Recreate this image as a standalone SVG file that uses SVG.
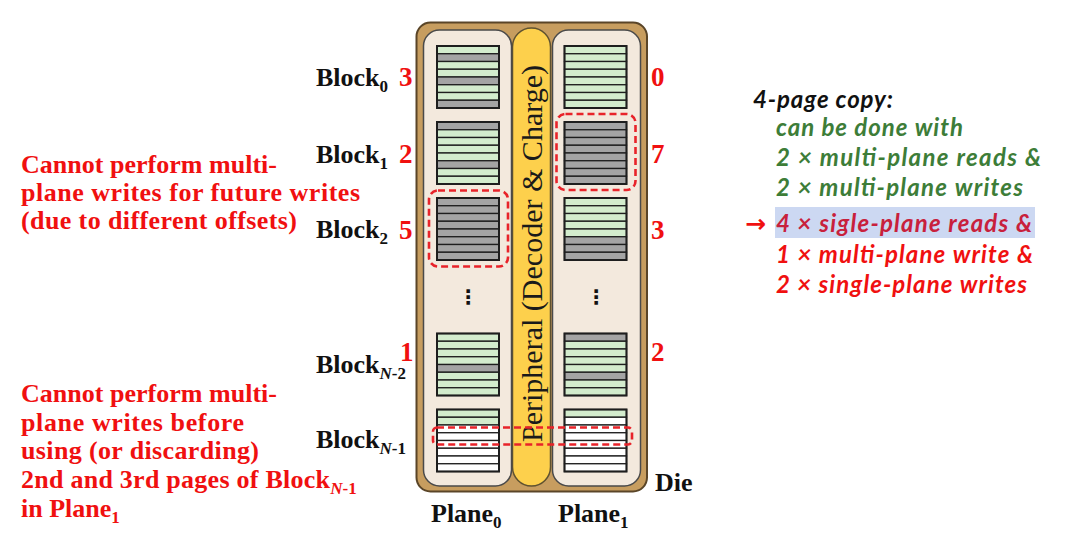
<svg xmlns="http://www.w3.org/2000/svg" width="1080" height="540" viewBox="0 0 1080 540">
<style>
.g{fill:#d3eccd;stroke:#1e1e1e;stroke-width:1.3}
.d{fill:#a4a4a4;stroke:#1e1e1e;stroke-width:1.3}
.w{fill:#ffffff;stroke:#1e1e1e;stroke-width:1.3}
.bo{fill:none;stroke:#1e1e1e;stroke-width:2}
.dash{fill:none;stroke:#e8232a;stroke-width:2.6;stroke-dasharray:7 4}
.lbl{font-family:"Liberation Serif",serif;font-weight:bold;font-size:26px;fill:#111}
.sub{font-size:17px}
.num{font-family:"Liberation Serif",serif;font-weight:bold;font-size:27px;fill:#f01010}
.red{font-family:"Liberation Serif",serif;font-weight:bold;font-size:26px;fill:#f01010}
.note{font-family:Lato,"Liberation Sans",sans-serif;font-weight:bold;font-style:italic;font-size:24px}
.dots{font-family:"DejaVu Sans",sans-serif;font-weight:bold;font-size:20px;fill:#111;text-anchor:middle}
</style>
<rect width="1080" height="540" fill="#ffffff"/>

<g id="die">
  <rect x="416.5" y="22.5" width="230.5" height="469" rx="14" fill="#c79d5f" stroke="#5a4528" stroke-width="2"/>
</g>
<g id="peripheral">
  <rect x="512.5" y="28" width="38" height="458" rx="19" fill="#fdd04c" stroke="#5f5230" stroke-width="1.5"/>
  <text transform="translate(542,442) rotate(-90)" font-family="'Liberation Serif',serif" font-size="30" fill="#1a1a1a" textLength="377" lengthAdjust="spacingAndGlyphs">Peripheral (Decoder &amp; Charge)</text>
</g>
<g id="plane0">
  <rect x="423.5" y="30" width="88" height="456" rx="16" fill="#f3e9dd" stroke="#4a4a4a" stroke-width="1.5"/>
</g>
<g id="plane1">
  <rect x="552.5" y="30" width="88" height="456" rx="16" fill="#f3e9dd" stroke="#4a4a4a" stroke-width="1.5"/>
</g>

<!-- Plane0 blocks -->
<g id="p0b0">
  <rect class="g" x="437" y="46" width="62" height="7.75"/><rect class="d" x="437" y="53.75" width="62" height="7.75"/><rect class="g" x="437" y="61.5" width="62" height="7.75"/><rect class="g" x="437" y="69.25" width="62" height="7.75"/><rect class="d" x="437" y="77" width="62" height="7.75"/><rect class="g" x="437" y="84.75" width="62" height="7.75"/><rect class="g" x="437" y="92.5" width="62" height="7.75"/><rect class="d" x="437" y="100.25" width="62" height="7.75"/>
  <rect class="bo" x="437" y="46" width="62" height="62"/>
</g>
<g id="p0b1">
  <rect class="d" x="437" y="122" width="62" height="7.75"/><rect class="g" x="437" y="129.75" width="62" height="7.75"/><rect class="g" x="437" y="137.5" width="62" height="7.75"/><rect class="g" x="437" y="145.25" width="62" height="7.75"/><rect class="g" x="437" y="153" width="62" height="7.75"/><rect class="d" x="437" y="160.75" width="62" height="7.75"/><rect class="g" x="437" y="168.5" width="62" height="7.75"/><rect class="g" x="437" y="176.25" width="62" height="7.75"/>
  <rect class="bo" x="437" y="122" width="62" height="62"/>
</g>
<g id="p0b2">
  <rect class="d" x="437" y="198" width="62" height="7.75"/><rect class="d" x="437" y="205.75" width="62" height="7.75"/><rect class="d" x="437" y="213.5" width="62" height="7.75"/><rect class="d" x="437" y="221.25" width="62" height="7.75"/><rect class="d" x="437" y="229" width="62" height="7.75"/><rect class="d" x="437" y="236.75" width="62" height="7.75"/><rect class="d" x="437" y="244.5" width="62" height="7.75"/><rect class="d" x="437" y="252.25" width="62" height="7.75"/>
  <rect class="bo" x="437" y="198" width="62" height="62"/>
</g>
<g id="p0dots"><text class="dots" x="468" y="304">⋮</text></g>
<g id="p0bn2">
  <rect class="g" x="437" y="333.5" width="62" height="7.75"/><rect class="g" x="437" y="341.25" width="62" height="7.75"/><rect class="g" x="437" y="349" width="62" height="7.75"/><rect class="g" x="437" y="356.75" width="62" height="7.75"/><rect class="d" x="437" y="364.5" width="62" height="7.75"/><rect class="g" x="437" y="372.25" width="62" height="7.75"/><rect class="g" x="437" y="380" width="62" height="7.75"/><rect class="g" x="437" y="387.75" width="62" height="7.75"/>
  <rect class="bo" x="437" y="333.5" width="62" height="62"/>
</g>
<g id="p0bn1">
  <rect class="g" x="437" y="409.5" width="62" height="7.75"/><rect class="g" x="437" y="417.25" width="62" height="7.75"/><rect class="w" x="437" y="425" width="62" height="7.75"/><rect class="w" x="437" y="432.75" width="62" height="7.75"/><rect class="w" x="437" y="440.5" width="62" height="7.75"/><rect class="w" x="437" y="448.25" width="62" height="7.75"/><rect class="w" x="437" y="456" width="62" height="7.75"/><rect class="w" x="437" y="463.75" width="62" height="7.75"/>
  <rect class="bo" x="437" y="409.5" width="62" height="62"/>
</g>

<!-- Plane1 blocks -->
<g id="p1b0">
  <rect class="g" x="564.5" y="46" width="62" height="7.75"/><rect class="g" x="564.5" y="53.75" width="62" height="7.75"/><rect class="g" x="564.5" y="61.5" width="62" height="7.75"/><rect class="g" x="564.5" y="69.25" width="62" height="7.75"/><rect class="g" x="564.5" y="77" width="62" height="7.75"/><rect class="g" x="564.5" y="84.75" width="62" height="7.75"/><rect class="g" x="564.5" y="92.5" width="62" height="7.75"/><rect class="g" x="564.5" y="100.25" width="62" height="7.75"/>
  <rect class="bo" x="564.5" y="46" width="62" height="62"/>
</g>
<g id="p1b1">
  <rect class="d" x="564.5" y="122" width="62" height="7.75"/><rect class="d" x="564.5" y="129.75" width="62" height="7.75"/><rect class="d" x="564.5" y="137.5" width="62" height="7.75"/><rect class="d" x="564.5" y="145.25" width="62" height="7.75"/><rect class="d" x="564.5" y="153" width="62" height="7.75"/><rect class="d" x="564.5" y="160.75" width="62" height="7.75"/><rect class="d" x="564.5" y="168.5" width="62" height="7.75"/><rect class="d" x="564.5" y="176.25" width="62" height="7.75"/>
  <rect class="bo" x="564.5" y="122" width="62" height="62"/>
</g>
<g id="p1b2">
  <rect class="g" x="564.5" y="198" width="62" height="7.75"/><rect class="g" x="564.5" y="205.75" width="62" height="7.75"/><rect class="g" x="564.5" y="213.5" width="62" height="7.75"/><rect class="g" x="564.5" y="221.25" width="62" height="7.75"/><rect class="g" x="564.5" y="229" width="62" height="7.75"/><rect class="d" x="564.5" y="236.75" width="62" height="7.75"/><rect class="d" x="564.5" y="244.5" width="62" height="7.75"/><rect class="d" x="564.5" y="252.25" width="62" height="7.75"/>
  <rect class="bo" x="564.5" y="198" width="62" height="62"/>
</g>
<g id="p1dots"><text class="dots" x="596" y="304">⋮</text></g>
<g id="p1bn2">
  <rect class="d" x="564.5" y="333.5" width="62" height="7.75"/><rect class="g" x="564.5" y="341.25" width="62" height="7.75"/><rect class="g" x="564.5" y="349" width="62" height="7.75"/><rect class="g" x="564.5" y="356.75" width="62" height="7.75"/><rect class="g" x="564.5" y="364.5" width="62" height="7.75"/><rect class="d" x="564.5" y="372.25" width="62" height="7.75"/><rect class="g" x="564.5" y="380" width="62" height="7.75"/><rect class="g" x="564.5" y="387.75" width="62" height="7.75"/>
  <rect class="bo" x="564.5" y="333.5" width="62" height="62"/>
</g>
<g id="p1bn1">
  <rect class="g" x="564.5" y="409.5" width="62" height="7.75"/><rect class="w" x="564.5" y="417.25" width="62" height="7.75"/><rect class="w" x="564.5" y="425" width="62" height="7.75"/><rect class="w" x="564.5" y="432.75" width="62" height="7.75"/><rect class="w" x="564.5" y="440.5" width="62" height="7.75"/><rect class="w" x="564.5" y="448.25" width="62" height="7.75"/><rect class="w" x="564.5" y="456" width="62" height="7.75"/><rect class="w" x="564.5" y="463.75" width="62" height="7.75"/>
  <rect class="bo" x="564.5" y="409.5" width="62" height="62"/>
</g>

<g id="highlights">
  <rect class="dash" x="556.5" y="114" width="79" height="76" rx="9"/>
  <rect class="dash" x="429" y="190.5" width="79" height="76" rx="9"/>
  <rect class="dash" x="433" y="427.5" width="199" height="17" rx="4"/>
</g>

<g id="connectors"></g>

<g id="block-labels">
  <text class="lbl" x="316" y="86">Block<tspan class="sub" dy="6">0</tspan></text>
  <text class="lbl" x="316" y="163">Block<tspan class="sub" dy="6">1</tspan></text>
  <text class="lbl" x="316" y="238">Block<tspan class="sub" dy="6">2</tspan></text>
  <text class="lbl" x="316" y="373">Block<tspan class="sub" dy="6" font-style="italic">N</tspan><tspan class="sub">-2</tspan></text>
  <text class="lbl" x="316" y="448">Block<tspan class="sub" dy="6" font-style="italic">N</tspan><tspan class="sub">-1</tspan></text>
  <text class="num" x="399" y="86">3</text>
  <text class="num" x="399" y="163">2</text>
  <text class="num" x="399" y="239">5</text>
  <text class="num" x="400" y="361">1</text>
  <text class="num" x="651" y="86">0</text>
  <text class="num" x="651" y="163">7</text>
  <text class="num" x="651" y="239">3</text>
  <text class="num" x="651" y="361">2</text>
  <text class="lbl" x="655" y="491">Die</text>
  <text class="lbl" x="431" y="522">Plane<tspan class="sub" dy="6">0</tspan></text>
  <text class="lbl" x="558" y="522">Plane<tspan class="sub" dy="6">1</tspan></text>
</g>

<g id="note-offsets">
  <text class="red" x="21" y="173" textLength="256">Cannot perform multi-</text>
  <text class="red" x="21" y="201" textLength="339">plane writes for future writes</text>
  <text class="red" x="21" y="229" textLength="276">(due to different offsets)</text>
</g>
<g id="note-blockn1">
  <text class="red" x="21" y="402" textLength="256">Cannot perform multi-</text>
  <text class="red" x="21" y="431" textLength="223">plane writes before</text>
  <text class="red" x="21" y="459" textLength="238">using (or discarding)</text>
  <text class="red" x="21" y="488"><tspan textLength="309">2nd and 3rd pages of Block</tspan><tspan class="sub" dy="6" font-style="italic">N</tspan><tspan class="sub">-1</tspan></text>
  <text class="red" x="21" y="517">in Plane<tspan class="sub" dy="6">1</tspan></text>
</g>

<g id="note-copy">
  <rect x="775" y="207" width="260" height="31" fill="#ccd8f2"/>
  <text class="note" x="753" y="108" fill="#111" textLength="140">4-page copy:</text>
  <text class="note" x="776" y="136" fill="#3d7d38" textLength="187">can be done with</text>
  <text class="note" x="776" y="166" fill="#3d7d38" textLength="265">2 × multi-plane reads &amp;</text>
  <text class="note" x="776" y="196" fill="#3d7d38" textLength="247">2 × multi-plane writes</text>
  <text x="745" y="232" font-family="'DejaVu Sans',sans-serif" font-weight="bold" font-size="25" fill="#f01010">→</text>
  <text class="note" x="776" y="232" fill="#c8203c" textLength="256">4 × sigle-plane reads &amp;</text>
  <text class="note" x="776" y="263" fill="#f01010" textLength="257">1 × multi-plane write &amp;</text>
  <text class="note" x="776" y="293" fill="#f01010" textLength="251">2 × single-plane writes</text>
</g>
</svg>
